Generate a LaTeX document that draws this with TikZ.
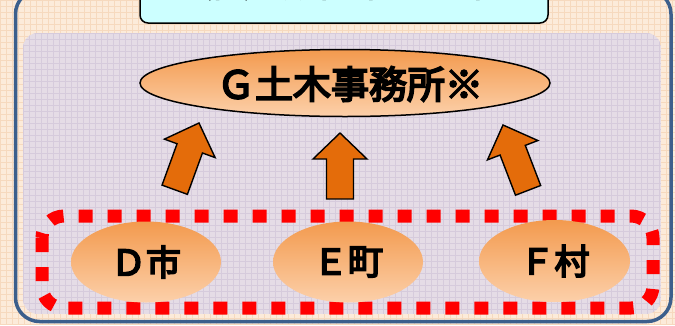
\documentclass[tikz,border=0pt]{standalone}
\usepackage{fontspec}
\newfontfamily\cjk[FakeBold=5]{Noto Sans CJK JP}
\newfontfamily\cjkt[FakeBold=4]{Noto Sans CJK JP}
\definecolor{bgpeach}{HTML}{FCEBDA}
\definecolor{gridpeach}{HTML}{F6D9BE}
\definecolor{panel}{HTML}{E5DCE6}
\definecolor{gridpanel}{HTML}{D6CBDC}
\definecolor{framebl}{HTML}{3C5F8C}
\definecolor{boxcyan}{HTML}{CCFFFF}
\definecolor{arroworange}{HTML}{E46C0A}
\definecolor{ellTop}{HTML}{F39A4E}
\definecolor{ellBot}{HTML}{FCD0AA}
\definecolor{dotred}{HTML}{FF0000}
\tikzset{
  blockarrow/.style={fill=arroworange, draw=black, line width=1.4pt, line join=miter},
  ellbox/.style={ellipse, top color=ellTop, bottom color=ellBot, inner sep=0pt},
  lbl/.style={font=\cjk\fontsize{35}{35}\selectfont, text=black},
}
\usetikzlibrary{shapes.geometric}
\begin{document}
\begin{tikzpicture}[x=1pt,y=-1pt]
\useasboundingbox (0,0) rectangle (675,325);
\clip (0,0) rectangle (675,325);
% background
\fill[bgpeach] (0,0) rectangle (675,325);
\foreach \i in {0,6,...,675} {\draw[gridpeach, line width=0.5pt] (\i,0) -- (\i,325);}
\foreach \i in {0,6,...,325} {\draw[gridpeach, line width=0.5pt] (0,\i) -- (675,\i);}
% outer frame
\draw[framebl, line width=3.5pt, rounded corners=24pt] (15.5,-10) rectangle (671,321.5);
% inner panel
\begin{scope}
\clip[rounded corners=15pt] (23,33) rectangle (661,314);
\fill[panel] (23,33) rectangle (661,314);
\foreach \i in {23,29,...,661} {\draw[gridpanel, line width=0.5pt] (\i,33) -- (\i,314);}
\foreach \i in {33,39,...,314} {\draw[gridpanel, line width=0.5pt] (23,\i) -- (661,\i);}
\end{scope}
% top box
\node[draw=black, line width=1.5pt, fill=boxcyan, rounded corners=8pt, minimum width=408pt, minimum height=50pt, inner sep=0pt] (top) at (344,-2) {};
\begin{scope}
\clip (140,0) rectangle (548,22);
\node[font=\cjkt\fontsize{30}{30}\selectfont, anchor=base, inner sep=0pt] (toptext) at (333,-3) {（旧）設計・管理担当};
\end{scope}
% G ellipse
\node[ellbox, draw=black, line width=1.5pt, minimum width=410pt, minimum height=67pt] (g) at (345,83) {};
\node[lbl, font=\cjk\fontsize{38}{38}\selectfont] (gt) at (350,84) {Ｇ土木事務所※};
% arrows
\begin{scope}[shift={(199,123)}, rotate=-20]
\draw[blockarrow] (0,0) -- (27,27) -- (13.5,27) -- (13.5,71) -- (-13.5,71) -- (-13.5,27) -- (-27,27) -- cycle;
\end{scope}
\begin{scope}[shift={(340,133)}]
\draw[blockarrow] (0,0) -- (27,26) -- (13.5,26) -- (13.5,66) -- (-13.5,66) -- (-13.5,26) -- (-27,26) -- cycle;
\end{scope}
\begin{scope}[shift={(503,125)}, rotate=21]
\draw[blockarrow] (0,0) -- (27,27) -- (13.5,27) -- (13.5,70) -- (-13.5,70) -- (-13.5,27) -- (-27,27) -- cycle;
\end{scope}
% red dotted group
\draw[dotred, line width=13pt, dash pattern=on 14pt off 15pt, rounded corners=22pt] (42,216) rectangle (653,308);
% municipalities
\node[ellbox, minimum width=150pt, minimum height=81pt] (d) at (146,262) {};
\node[ellbox, minimum width=150pt, minimum height=81pt] (e) at (348,262) {};
\node[ellbox, minimum width=151pt, minimum height=82pt] (f) at (554.5,261) {};
\node[lbl] (dt) at (d) {Ｄ市};
\node[lbl] (et) at (e) {Ｅ町};
\node[lbl] (ft) at (f) {Ｆ村};
\end{tikzpicture}
\end{document}
